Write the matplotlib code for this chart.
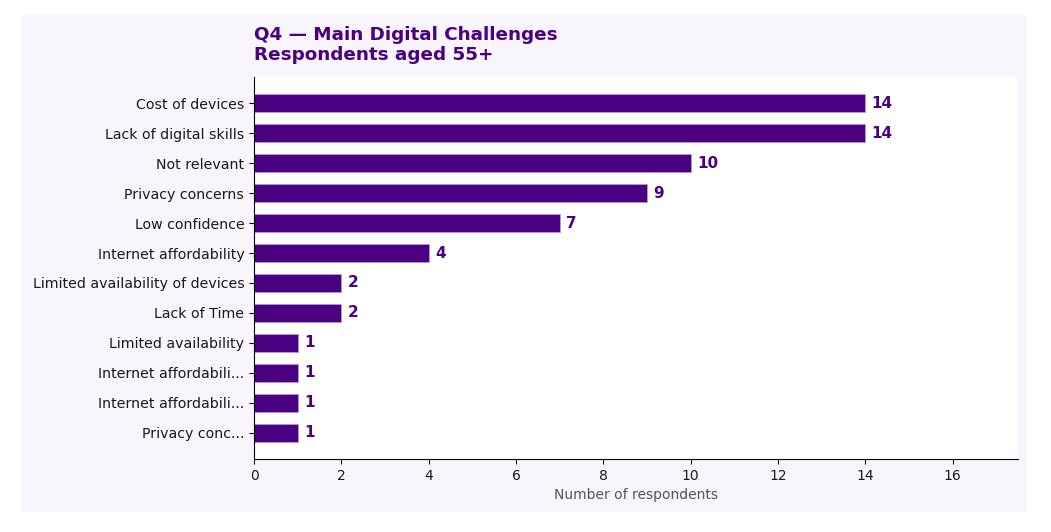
import matplotlib
matplotlib.use("Agg")
import matplotlib.pyplot as plt
from matplotlib.patches import Rectangle

categories = ["Cost of devices", "Lack of digital skills", "Not relevant", "Privacy concerns",
              "Low confidence", "Internet affordability", "Limited availability of devices",
              "Lack of Time", "Limited availability", "Internet affordabili...",
              "Internet affordabili...", "Privacy conc..."]
values = [14, 14, 10, 9, 7, 4, 2, 2, 1, 1, 1, 1]
title = "Q4 \u2014 Main Digital Challenges\nRespondents aged 55+"
xlabel = "Number of respondents"

W, H = 1051, 532
fig = plt.figure(figsize=(W / 100, H / 100), dpi=100, facecolor="white")
fig.patches.append(Rectangle((22 / W, 1 - 512 / H), (1027 - 22) / W, (512 - 15) / H,
                             transform=fig.transFigure, facecolor="#f8f5fd",
                             edgecolor="none", zorder=-10))
ax = fig.add_axes([254 / W, 1 - 459 / H, (1018 - 254) / W, (459 - 77) / H])
ax.set_facecolor("white")

purple = "#4b0082"
ypos = list(range(len(categories)))
ax.barh(ypos, values, height=0.6, color=purple, edgecolor="#b59ad6", linewidth=0.6)
ax.invert_yaxis()
ax.set_yticks(ypos)
ax.set_yticklabels(categories, fontsize=10.2, color="#1a1a1a")
ax.set_xlim(0, 17.5)
ax.set_xticks(range(0, 17, 2))
ax.tick_params(axis="x", labelsize=10, colors="#1a1a1a")
for s in ["top", "right"]:
    ax.spines[s].set_visible(False)
for y, v in zip(ypos, values):
    ax.text(v + 0.15, y, str(v), va="center", ha="left", fontsize=11,
            fontweight="bold", color=purple)
ax.set_xlabel(xlabel, fontsize=10, color="#555555")
ax.set_title(title, loc="left", fontsize=13.2, fontweight="bold", color=purple,
             pad=12, linespacing=1.15)

fig.savefig("out.png", dpi=100, facecolor="white")
